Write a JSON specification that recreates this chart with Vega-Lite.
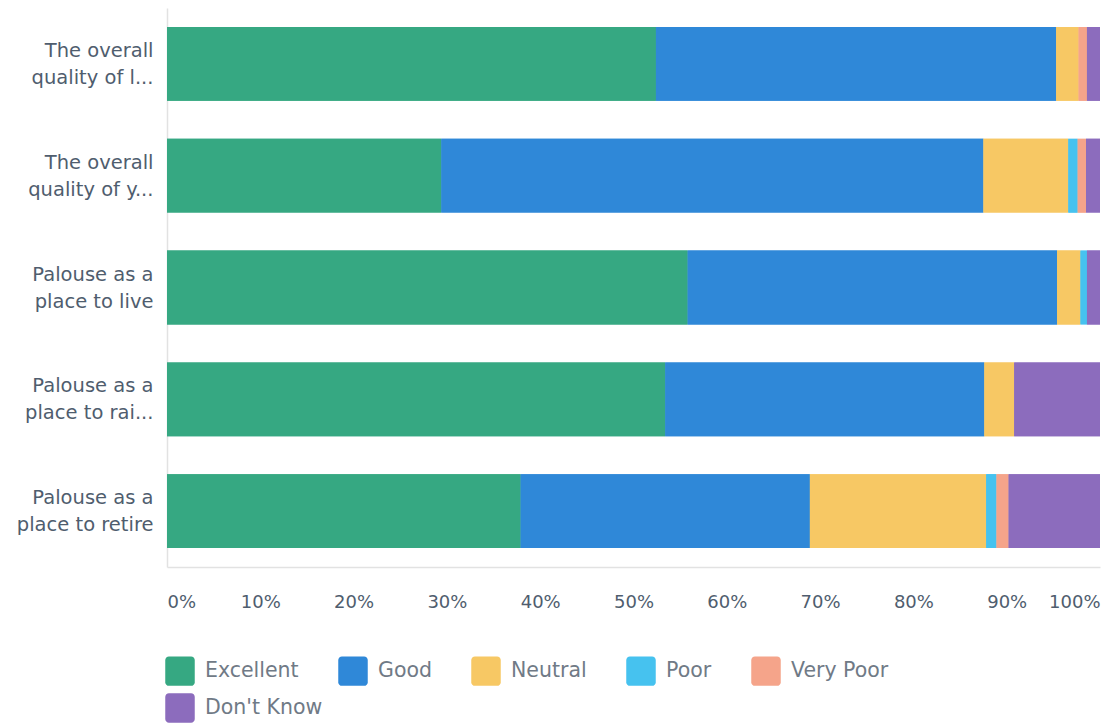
{
  "$schema": "https://vega.github.io/schema/vega-lite/v6.json",
  "autosize": "none",
  "width": 933,
  "height": 559,
  "padding": {"left": 167, "top": 8, "right": 20, "bottom": 161},
  "background": "#ffffff",
  "data": {
    "values": [
      {"q": "The overall|quality of l...", "r": "Excellent", "k": 1, "v": 52.4},
      {"q": "The overall|quality of l...", "r": "Good", "k": 2, "v": 42.9},
      {"q": "The overall|quality of l...", "r": "Neutral", "k": 3, "v": 2.4},
      {"q": "The overall|quality of l...", "r": "Poor", "k": 4, "v": 0},
      {"q": "The overall|quality of l...", "r": "Very Poor", "k": 5, "v": 0.9},
      {"q": "The overall|quality of l...", "r": "Don't Know", "k": 6, "v": 1.4},
      {"q": "The overall|quality of y...", "r": "Excellent", "k": 1, "v": 29.4},
      {"q": "The overall|quality of y...", "r": "Good", "k": 2, "v": 58.1},
      {"q": "The overall|quality of y...", "r": "Neutral", "k": 3, "v": 9.1},
      {"q": "The overall|quality of y...", "r": "Poor", "k": 4, "v": 1.0},
      {"q": "The overall|quality of y...", "r": "Very Poor", "k": 5, "v": 0.9},
      {"q": "The overall|quality of y...", "r": "Don't Know", "k": 6, "v": 1.5},
      {"q": "Palouse as a|place to live", "r": "Excellent", "k": 1, "v": 55.8},
      {"q": "Palouse as a|place to live", "r": "Good", "k": 2, "v": 39.6},
      {"q": "Palouse as a|place to live", "r": "Neutral", "k": 3, "v": 2.5},
      {"q": "Palouse as a|place to live", "r": "Poor", "k": 4, "v": 0.7},
      {"q": "Palouse as a|place to live", "r": "Very Poor", "k": 5, "v": 0},
      {"q": "Palouse as a|place to live", "r": "Don't Know", "k": 6, "v": 1.4},
      {"q": "Palouse as a|place to rai...", "r": "Excellent", "k": 1, "v": 53.4},
      {"q": "Palouse as a|place to rai...", "r": "Good", "k": 2, "v": 34.2},
      {"q": "Palouse as a|place to rai...", "r": "Neutral", "k": 3, "v": 3.2},
      {"q": "Palouse as a|place to rai...", "r": "Poor", "k": 4, "v": 0},
      {"q": "Palouse as a|place to rai...", "r": "Very Poor", "k": 5, "v": 0},
      {"q": "Palouse as a|place to rai...", "r": "Don't Know", "k": 6, "v": 9.2},
      {"q": "Palouse as a|place to retire", "r": "Excellent", "k": 1, "v": 37.9},
      {"q": "Palouse as a|place to retire", "r": "Good", "k": 2, "v": 31.0},
      {"q": "Palouse as a|place to retire", "r": "Neutral", "k": 3, "v": 18.9},
      {"q": "Palouse as a|place to retire", "r": "Poor", "k": 4, "v": 1.1},
      {"q": "Palouse as a|place to retire", "r": "Very Poor", "k": 5, "v": 1.3},
      {"q": "Palouse as a|place to retire", "r": "Don't Know", "k": 6, "v": 9.8}
    ]
  },
  "encoding": {
    "y": {
      "field": "q",
      "type": "nominal",
      "sort": null,
      "title": null,
      "scale": {"paddingInner": 0.34, "paddingOuter": 0.17},
      "axis": {
        "labelExpr": "split(datum.label, '|')",
        "labelFont": "DejaVu Sans",
        "labelFontSize": 19.5,
        "labelColor": "#4f5d6e",
        "labelLineHeight": 27,
        "labelPadding": 14,
        "labelOffset": -13,
        "labelAlign": "right",
        "labelBaseline": "middle",
        "ticks": false,
        "domain": true,
        "domainColor": "#e2e2e2",
        "domainWidth": 1.5,
        "grid": false,
        "labelLimit": 200
      }
    },
    "x": {
      "field": "v",
      "type": "quantitative",
      "stack": "zero",
      "title": null,
      "scale": {"domain": [0, 100], "nice": false},
      "axis": {
        "values": [0, 10, 20, 30, 40, 50, 60, 70, 80, 90, 100],
        "labelExpr": "datum.value + '%'",
        "labelFont": "DejaVu Sans",
        "labelFontSize": 18,
        "labelColor": "#4f5d6e",
        "labelPadding": 26,
        "labelFlush": true,
        "ticks": false,
        "grid": false,
        "domain": true,
        "domainColor": "#e2e2e2",
        "domainWidth": 1.5
      }
    },
    "order": {"field": "k", "type": "quantitative"}
  },
  "layer": [
    {
      "mark": {"type": "bar"},
      "encoding": {
        "color": {
          "field": "r",
          "type": "nominal",
          "title": null,
          "scale": {
            "domain": ["Excellent", "Good", "Neutral", "Poor", "Very Poor", "Don't Know"],
            "range": ["#36a882", "#2f88d8", "#f7c864", "#46c2ef", "#f5a48a", "#8c6cbd"]
          },
          "legend": {
            "values": ["Excellent", "Good", "Neutral", "Poor", "Very Poor"],
            "orient": "none",
            "legendX": -2,
            "legendY": 648,
            "direction": "horizontal",
            "columns": 5,
            "columnPadding": 39,
            "symbolType": "M -0.75 -1 L 0.75 -1 A 0.25 0.25 0 0 1 1 -0.75 L 1 0.75 A 0.25 0.25 0 0 1 0.75 1 L -0.75 1 A 0.25 0.25 0 0 1 -1 0.75 L -1 -0.75 A 0.25 0.25 0 0 1 -0.75 -1 Z",
            "symbolSize": 870,
            "symbolStrokeWidth": 0,
            "symbolOpacity": 1,
            "symbolOffset": 0,
            "labelFont": "DejaVu Sans",
            "labelFontSize": 20.5,
            "labelColor": "#707a86",
            "labelOffset": 10,
            "labelLimit": 200
          }
        }
      }
    },
    {
      "mark": {"type": "bar"},
      "encoding": {
        "fill": {
          "field": "r",
          "type": "nominal",
          "title": null,
          "scale": {
            "domain": ["Don't Know", "Excellent", "Good", "Neutral", "Poor", "Very Poor"],
            "range": ["#8c6cbd", "#36a882", "#2f88d8", "#f7c864", "#46c2ef", "#f5a48a"]
          },
          "legend": {
            "values": ["Don't Know"],
            "orient": "none",
            "legendX": -2,
            "legendY": 685,
            "direction": "horizontal",
            "symbolType": "M -0.75 -1 L 0.75 -1 A 0.25 0.25 0 0 1 1 -0.75 L 1 0.75 A 0.25 0.25 0 0 1 0.75 1 L -0.75 1 A 0.25 0.25 0 0 1 -1 0.75 L -1 -0.75 A 0.25 0.25 0 0 1 -0.75 -1 Z",
            "symbolSize": 870,
            "symbolStrokeWidth": 0,
            "symbolOpacity": 1,
            "symbolOffset": 0,
            "labelFont": "DejaVu Sans",
            "labelFontSize": 20.5,
            "labelColor": "#707a86",
            "labelOffset": 10,
            "labelLimit": 200
          }
        }
      }
    }
  ],
  "config": {"view": {"stroke": null}}
}
